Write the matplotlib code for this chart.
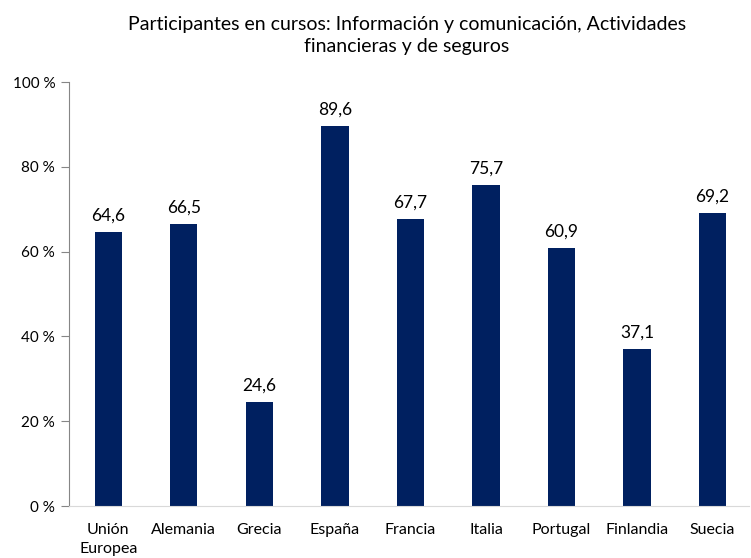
import numpy as np
import matplotlib.pyplot as plt

# Datos
paises = ['Unión\nEuropea', 'Alemania', 'Grecia', 'España', 'Francia',
          'Italia', 'Portugal', 'Finlandia', 'Suecia']
valores = [64.6, 66.5, 24.6, 89.6, 67.7, 75.7, 60.9, 37.1, 69.2]
ticks_y = [0, 20, 40, 60, 80, 100]

plt.rcParams['font.family'] = ['Lato', 'DejaVu Sans']

fig = plt.figure(figsize=(7.51, 5.58), dpi=100)
ax = fig.add_axes([0.092, 0.093, 0.905, 0.76])

x = np.arange(len(paises))
barras = ax.bar(x, valores, width=0.36, color='#002060')

for xi, v in zip(x, valores):
    ax.text(xi, v + 2, f'{v:.1f}'.replace('.', ','), ha='center', va='bottom',
            fontsize=12.5, color='#000000')

ax.set_xlim(-0.52, 8.48)
ax.set_ylim(0, 100)
ax.set_yticks(ticks_y)
ax.set_yticklabels([f'{t} %' for t in ticks_y], fontsize=11)
ax.set_xticks(x)
ax.set_xticklabels(paises, fontsize=11.5, linespacing=1.45)
ax.tick_params(axis='x', length=0, pad=12)
ax.tick_params(axis='y', length=6, color='#868686', pad=4)

ax.spines['top'].set_visible(False)
ax.spines['right'].set_visible(False)
ax.spines['left'].set_color('#868686')
ax.spines['bottom'].set_color('#d9d9d9')

fig.suptitle('Participantes en cursos: Información y comunicación, Actividades\nfinancieras y de seguros',
             fontsize=14, x=0.542, y=0.972, linespacing=1.4)

plt.savefig('out.png', dpi=100)
